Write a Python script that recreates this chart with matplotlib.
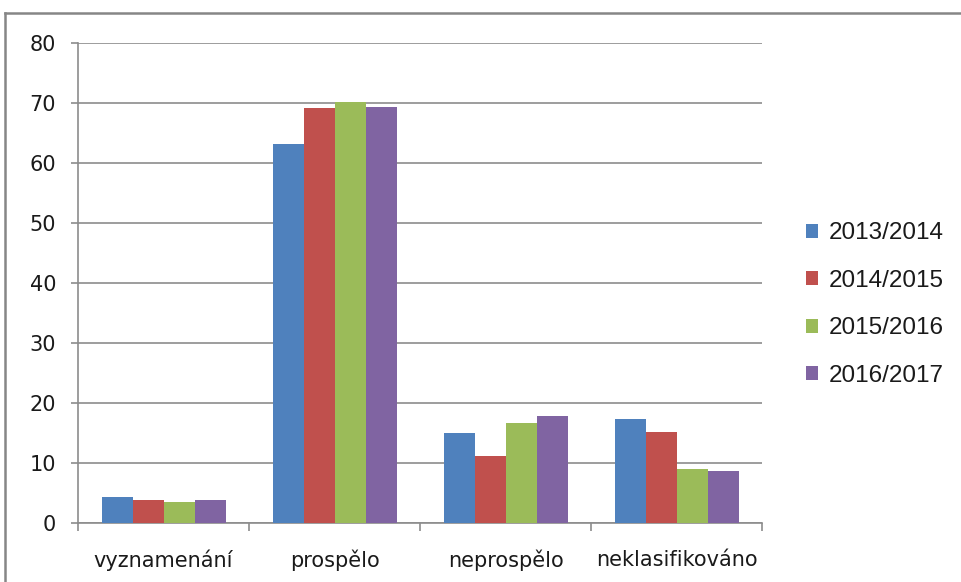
import matplotlib
matplotlib.use("Agg")
import matplotlib.pyplot as plt
import numpy as np
from matplotlib.lines import Line2D

categories = ["vyznamenání", "prospělo", "neprospělo", "neklasifikováno"]
series = ["2013/2014", "2014/2015", "2015/2016", "2016/2017"]
v2013 = [4.3, 63.1, 15.0, 17.4]
v2014 = [3.9, 69.1, 11.1, 15.2]
v2015 = [3.5, 70.1, 16.7, 9.0]
v2016 = [3.9, 69.3, 17.8, 8.7]
colors = ["#4F81BD", "#C0504D", "#9BBB59", "#8064A2"]
yticks = [0, 10, 20, 30, 40, 50, 60, 70, 80]

plt.rcParams['font.family'] = ['DejaVu Sans']

W, H = 962, 582
fig = plt.figure(figsize=(W/100, H/100), dpi=100)
ax = fig.add_axes([78/W, 1-523/H, (762.5-78)/W, (523-43)/H])

x = np.arange(len(categories))
bw = 0.181
data = [v2013, v2014, v2015, v2016]
for i, (vals, c, s) in enumerate(zip(data, colors, series)):
    ax.bar(x + (i - 1.5) * bw, vals, bw, color=c, label=s, zorder=3)

ax.set_xlim(-0.5, len(categories) - 0.5)
ax.set_ylim(0, 80)
ax.set_yticks(yticks)
ax.yaxis.grid(True, color="#8c8c8c", linewidth=1.2, zorder=0)
for sp in ["top", "right"]:
    ax.spines[sp].set_visible(False)
for sp in ["left", "bottom"]:
    ax.spines[sp].set_color("#8c8c8c")
    ax.spines[sp].set_linewidth(1.2)

ax.set_xticks(x)
ax.set_xticklabels(categories)
ax.set_xticks(np.arange(len(categories) + 1) - 0.5, minor=True)
ax.tick_params(axis="x", which="major", length=0, pad=19.4, labelsize=15, colors="#1a1a1a")
ax.tick_params(axis="x", which="minor", length=5.8, color="#8c8c8c", width=1.2)
ax.tick_params(axis="y", length=5, color="#8c8c8c", width=1.2, pad=10.8, labelsize=15, labelcolor="#1a1a1a")

leg = fig.legend(*ax.get_legend_handles_labels(), loc="center left",
                 bbox_to_anchor=(806/W, 1-304.5/H), frameon=False,
                 prop={'family': 'Liberation Sans', 'size': 17.5},
                 handlelength=0.5, handleheight=0.5,
                 labelspacing=1.05, handletextpad=0.45,
                 borderaxespad=0, borderpad=0)
for t in leg.get_texts():
    t.set_color("#1a1a1a")

# outer chart frame (top and left edges visible)
fig.add_artist(Line2D([5/W, 5/W], [0, 1-13/H], transform=fig.transFigure,
                      color="#868686", linewidth=1.8))
fig.add_artist(Line2D([5/W, 1], [1-13/H, 1-13/H], transform=fig.transFigure,
                      color="#868686", linewidth=1.8))

fig.savefig("out.png", dpi=100)
